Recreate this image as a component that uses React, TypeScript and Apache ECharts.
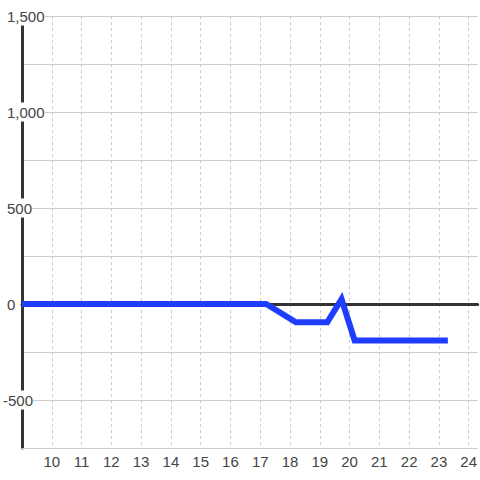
import React, { useEffect, useRef } from "react";
import * as echarts from "echarts";

const xValues = [9, 17.2, 18.2, 19.25, 19.73, 20.17, 23.3];
const yValues = [0, 0, -95, -95, 25, -190, -190];
const xMin = 9;
const xMax = 24.3;
const yMin = -750;
const yMax = 1500;

const FONT = "'Liberation Sans', Arial, sans-serif";

export default function App() {
  const ref = useRef<HTMLDivElement>(null);
  useEffect(() => {
    if (!ref.current) return;
    const chart = echarts.init(ref.current, undefined, { renderer: "svg" });
    const data = xValues.map((x, i) => [x, yValues[i]]);
    chart.setOption({
      animation: false,
      backgroundColor: "#ffffff",
      textStyle: { fontFamily: FONT },
      grid: { left: 20.5, right: 0, top: 16, bottom: 32, containLabel: false },
      xAxis: [
        {
          type: "value",
          min: xMin,
          max: xMax,
          interval: 1,
          axisLine: { onZero: false, lineStyle: { color: "#cccccc", width: 1 } },
          axisTick: { show: false },
          splitLine: {
            show: true,
            showMinLine: false,
            showMaxLine: false,
            lineStyle: { color: "#cccccc", type: [3, 3], width: 1 },
          },
          axisLabel: {
            color: "#444444",
            fontSize: 15,
            fontFamily: FONT,
            margin: 6,
            showMinLabel: false,
            showMaxLabel: false,
            formatter: (v: number) => (Number.isInteger(v) && v > xMin ? String(v) : ""),
          },
        },
        {
          type: "value",
          min: xMin,
          max: xMax,
          interval: 1,
          axisLine: { show: true, onZero: true, lineStyle: { color: "#333333", width: 3 } },
          axisTick: { show: false },
          splitLine: { show: false },
          axisLabel: { show: false },
        },
      ],
      yAxis: {
        type: "value",
        min: yMin,
        max: yMax,
        interval: 250,
        axisLine: { show: true, onZero: false, lineStyle: { color: "#333333", width: 3 } },
        axisTick: { show: false },
        splitLine: { show: true, lineStyle: { color: "#cccccc", width: 1 } },
        axisLabel: {
          color: "#444444",
          fontSize: 15,
          fontFamily: FONT,
          align: "left",
          margin: 19,
          formatter: (v: number) => {
            if (v % 500 !== 0) return "";
            const s = Math.abs(v).toLocaleString("en-US");
            return v < 0 ? `{n|-${s}}` : `{p|${s}}`;
          },
          rich: {
            n: { color: "#444444", fontSize: 15, fontFamily: FONT, backgroundColor: "#ffffff", padding: [2, 0, 2, 0] },
            p: { color: "#444444", fontSize: 15, fontFamily: FONT, backgroundColor: "#ffffff", padding: [2, 0, 2, 4] },
          },
        },
      },
      series: [
        {
          type: "line",
          xAxisIndex: 0,
          data,
          showSymbol: false,
          symbol: "none",
          lineStyle: { color: "#1f3dff", width: 6, join: "miter" },
          z: 5,
        },
      ],
    });
    return () => chart.dispose();
  }, []);
  return <div ref={ref} style={{ width: 480, height: 480, position: "absolute", left: 0, top: 0 }} />;
}
